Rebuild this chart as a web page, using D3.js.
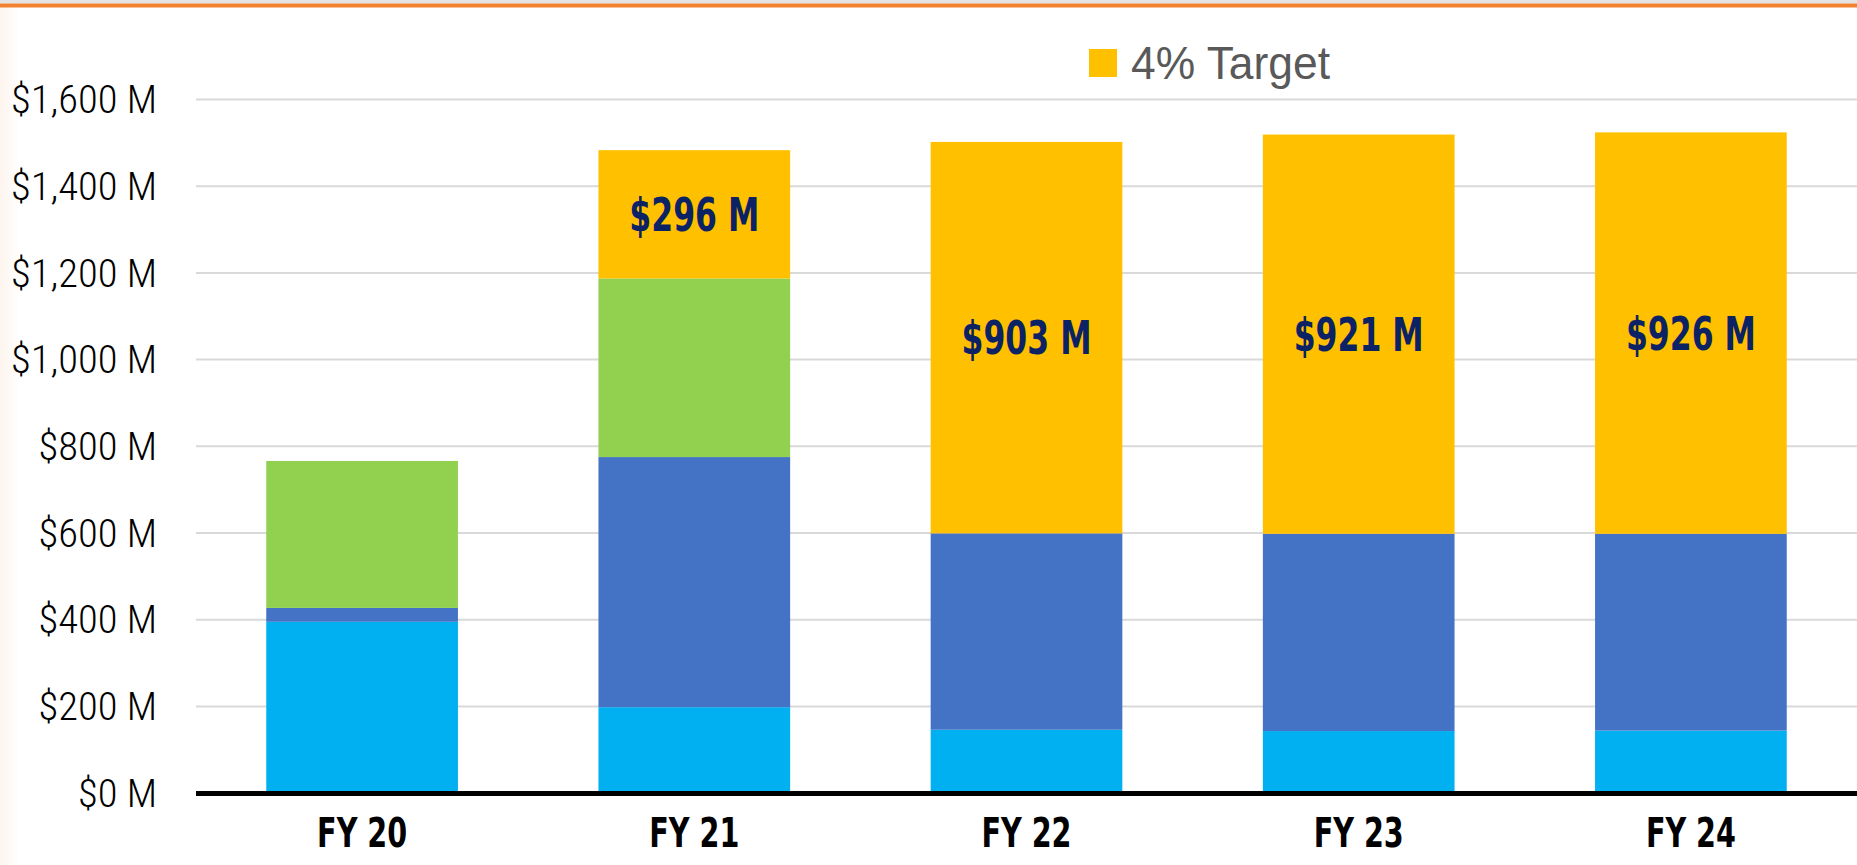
<!DOCTYPE html>
<html>
<head>
<meta charset="utf-8">
<script src="https://cdn.jsdelivr.net/npm/d3@7"></script>
<style>
  body { margin: 0; background: #fff; }
  svg { display: block; }
  text { font-family: "Liberation Sans Narrow", "Arial Narrow", "DejaVu Sans Condensed", "Liberation Sans", sans-serif; font-stretch: condensed; }
  .light { font-family: Roboto, "Liberation Sans", sans-serif; font-weight: 300; }
  .plain { font-family: "Liberation Sans", Arial, sans-serif; }
</style>
</head>
<body>
<script>
// values in $M
var years   = ["FY 20", "FY 21", "FY 22", "FY 23", "FY 24"];
var seriesA = [394, 197, 145, 142, 143];   // light blue
var seriesB = [32, 577, 453, 455, 454];    // dark blue
var seriesC = [339, 412, 0, 0, 0];         // green
var target  = [0, 296, 903, 921, 926];     // 4% target
var yTicks  = [0, 200, 400, 600, 800, 1000, 1200, 1400, 1600];

var keys = ["a", "b", "c", "t"];
var colors = { a: "#00B0F0", b: "#4472C4", c: "#92D050", t: "#FFC000" };

var rows = years.map(function(fy, i) {
  return { fy: fy, a: seriesA[i], b: seriesB[i], c: seriesC[i], t: target[i] };
});

var W = 1857, H = 865;
var left = 196, right = 1857;

var svg = d3.select("body").append("svg")
  .attr("width", W)
  .attr("height", H);

// faint shading on the left edge and the rule at the top
var defs = svg.append("defs");
var grad = defs.append("linearGradient").attr("id", "edge");
grad.append("stop").attr("offset", "0%").attr("stop-color", "#fdf4ee");
grad.append("stop").attr("offset", "100%").attr("stop-color", "#ffffff");
svg.append("rect").attr("x", 0).attr("y", 0).attr("width", 20).attr("height", H).attr("fill", "url(#edge)");
svg.append("rect").attr("x", 0).attr("y", 0).attr("width", W).attr("height", 3.5).attr("fill", "#e4e4e4");
svg.append("rect").attr("x", 0).attr("y", 3.5).attr("width", W).attr("height", 4).attr("fill", "#F28131");

var x = d3.scaleBand()
  .domain(years)
  .range([left, right])
  .paddingInner(0.423)
  .paddingOuter(0.2115);

var y = d3.scaleLinear()
  .domain([0, 1600])
  .range([792.6, 99]);

// gridlines
var grid = svg.append("g")
  .attr("transform", "translate(" + left + ",0)")
  .call(d3.axisLeft(y).tickValues(yTicks.slice(1)).tickSize(-(right - left)).tickFormat(""));
grid.select(".domain").remove();
grid.selectAll("line").attr("stroke", "#d9d9d9").attr("stroke-width", 2);

// y labels
var yAxis = svg.append("g")
  .attr("transform", "translate(" + left + ",0)")
  .call(d3.axisLeft(y).tickValues(yTicks).tickSize(0).tickPadding(39)
    .tickFormat(function(d) { return "$" + d3.format(",")(d) + " M"; }));
yAxis.select(".domain").remove();
yAxis.selectAll("text")
  .attr("class", "light")
  .attr("font-size", 38)
  .attr("fill", "#000")
  .attr("dy", "0.36em")
  .style("font-family", null);

// stacked bars
var stacked = d3.stack().keys(keys)(rows);

var layers = svg.selectAll("g.layer")
  .data(stacked)
  .enter()
  .append("g")
  .attr("class", "layer")
  .attr("fill", function(d) { return colors[d.key]; });

layers.selectAll("rect")
  .data(function(d) { return d; })
  .enter()
  .append("rect")
  .attr("x", function(d) { return x(d.data.fy); })
  .attr("width", x.bandwidth())
  .attr("y", function(d) { return y(d[1]); })
  .attr("height", function(d) { return y(d[0]) - y(d[1]); });

// labels inside the target segment
var tLayer = stacked[keys.indexOf("t")];
var dataLabels = svg.append("g")
  .selectAll("text")
  .data(tLayer.filter(function(d) { return d[1] - d[0] > 0; }))
  .enter()
  .append("text")
  .attr("x", function(d) { return x(d.data.fy) + x.bandwidth() / 2; })
  .attr("y", function(d) { return (y(d[0]) + y(d[1])) / 2 + 16.5; })
  .attr("text-anchor", "middle")
  .attr("font-size", 46)
  .attr("font-weight", "bold")
  .attr("fill", "#0B2265")
  .text(function(d) { return "$" + (d[1] - d[0]) + " M"; });

// x axis
var xAxis = svg.append("g")
  .attr("transform", "translate(0," + y(0) + ")")
  .call(d3.axisBottom(x).tickSize(0));
xAxis.select(".domain").remove();
xAxis.selectAll("text")
  .attr("y", 54.4)
  .attr("dy", null)
  .attr("font-size", 40)
  .attr("font-weight", "bold")
  .attr("fill", "#000")
  .style("font-family", null);

svg.append("line")
  .attr("x1", left).attr("x2", right)
  .attr("y1", 793.5).attr("y2", 793.5)
  .attr("stroke", "#000")
  .attr("stroke-width", 5);

// legend
var legend = svg.append("g").attr("transform", "translate(1089,49)");
legend.append("rect").attr("width", 28).attr("height", 28).attr("fill", colors.t);
var legendText = legend.append("text")
  .attr("class", "plain")
  .attr("x", 42).attr("y", 30)
  .attr("font-size", 46)
  .attr("fill", "#595959")
  .text("4% Target");

// squeeze text to the narrow face used in the original
function squeeze(sel, sampleNode, width) {
  var k = width / sampleNode.getComputedTextLength();
  sel.each(function() {
    var w = this.getComputedTextLength();
    d3.select(this).attr("textLength", w * k).attr("lengthAdjust", "spacingAndGlyphs");
  });
}
var yTexts = yAxis.selectAll("text");
squeeze(yTexts, yTexts.filter(function(d) { return d === 1600; }).node(), 146);
var xTexts = xAxis.selectAll("text");
squeeze(xTexts, xTexts.filter(function(d) { return d === "FY 24"; }).node(), 90);
squeeze(dataLabels, dataLabels.node(), 130);
squeeze(legendText, legendText.node(), 199);
</script>
</body>
</html>
